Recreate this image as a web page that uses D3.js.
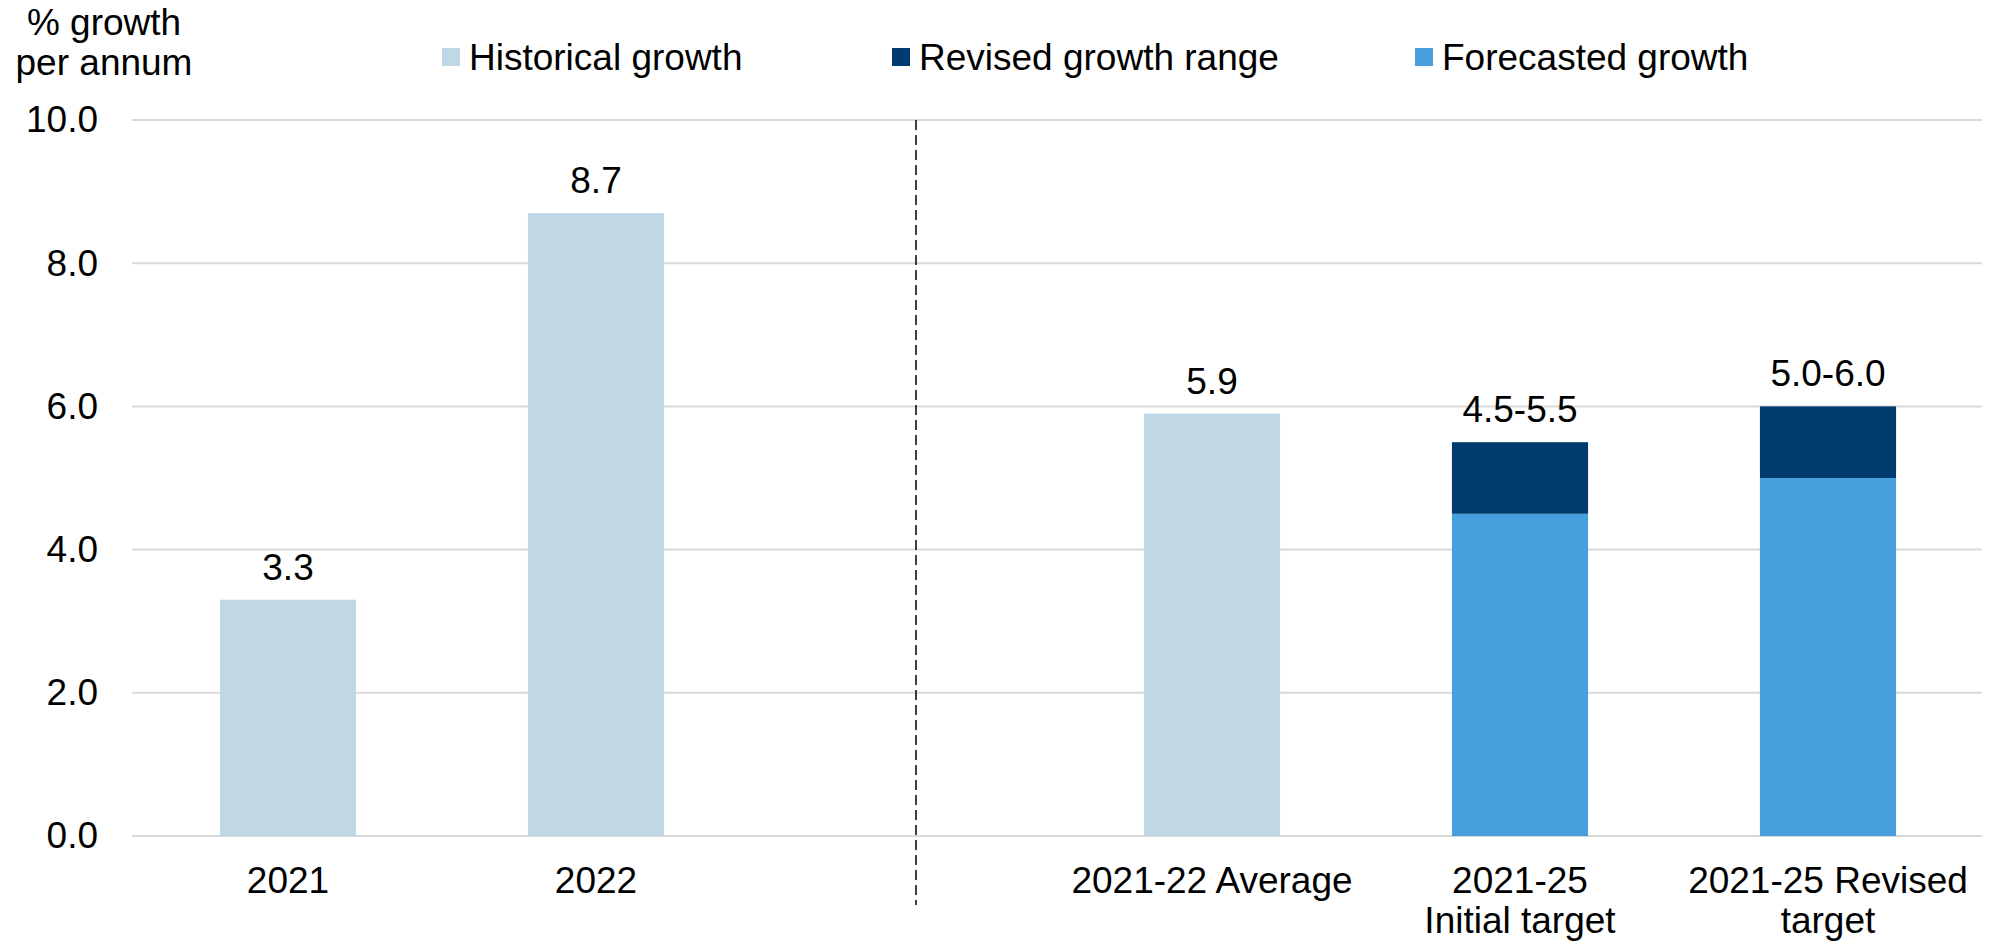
<!DOCTYPE html>
<html>
<head>
<meta charset="utf-8">
<script src="https://cdn.jsdelivr.net/npm/d3@7"></script>
<style>
  html, body { margin: 0; padding: 0; background: #ffffff; }
  svg { display: block; }
  text { font-family: "Liberation Sans", Arial, sans-serif; fill: #000; }
</style>
</head>
<body>
<svg id="chart" width="1990" height="943"></svg>
<script>
// ---- Data ----
const categories = ["2021", "2022", "gap", "2021-22 Average", "2021-25 Initial target", "2021-25 Revised target"];
const categoryLabels = [["2021"], ["2022"], [], ["2021-22 Average"], ["2021-25", "Initial target"], ["2021-25 Revised", "target"]];
const historicalGrowth = [3.3, 8.7, null, 5.9, null, null];
const forecastedGrowth = [null, null, null, null, 4.5, 5.0];
const revisedRangeTop = [null, null, null, null, 5.5, 6.0];
const valueLabels = ["3.3", "8.7", "", "5.9", "4.5-5.5", "5.0-6.0"];
const yTicks = [0, 2, 4, 6, 8, 10];
const legendItems = ["Historical growth", "Revised growth range", "Forecasted growth"];
const yTitle = ["% growth", "per annum"];

// ---- Styles ----
const colHist = "#C0D7E6", colRange = "#003B70", colFore = "#479FDE";
const legendColors = [colHist, colRange, colFore];
const fontSize = 37;

const svg = d3.select("#chart");

const x = d3.scaleBand().domain(categories).range([134, 1982]).paddingInner(0.558).paddingOuter(0.279);
const y = d3.scaleLinear().domain([0, 10]).range([836, 120]);

// Gridlines
svg.append("g").selectAll("line").data(yTicks).join("line")
  .attr("x1", 132).attr("x2", 1982)
  .attr("y1", d => y(d)).attr("y2", d => y(d))
  .attr("stroke", "#d9d9d9").attr("stroke-width", 2);

// Y axis labels
const yAxis = d3.axisLeft(y).tickValues(yTicks).tickFormat(d3.format(".1f")).tickSize(0).tickPadding(0);
const yg = svg.append("g").attr("transform", "translate(98,0)").call(yAxis);
yg.select(".domain").remove();
yg.selectAll("text").attr("font-size", fontSize).attr("font-family", "Liberation Sans, Arial, sans-serif").attr("fill", "#000");

// Y title
svg.append("text").attr("text-anchor", "middle").attr("font-size", fontSize)
  .selectAll("tspan").data(yTitle).join("tspan")
  .attr("x", 104).attr("y", (d, i) => 35 + i * 40).text(d => d);

// Bars: historical
const idx = d3.range(categories.length);
svg.append("g").selectAll("rect").data(idx.filter(i => historicalGrowth[i] != null)).join("rect")
  .attr("x", i => x(categories[i])).attr("width", x.bandwidth())
  .attr("y", i => y(historicalGrowth[i])).attr("height", i => y(0) - y(historicalGrowth[i]))
  .attr("fill", colHist);
// Forecasted
svg.append("g").selectAll("rect").data(idx.filter(i => forecastedGrowth[i] != null)).join("rect")
  .attr("x", i => x(categories[i])).attr("width", x.bandwidth())
  .attr("y", i => y(forecastedGrowth[i])).attr("height", i => y(0) - y(forecastedGrowth[i]))
  .attr("fill", colFore);
// Revised range
svg.append("g").selectAll("rect").data(idx.filter(i => revisedRangeTop[i] != null)).join("rect")
  .attr("x", i => x(categories[i])).attr("width", x.bandwidth())
  .attr("y", i => y(revisedRangeTop[i])).attr("height", i => y(forecastedGrowth[i]) - y(revisedRangeTop[i]))
  .attr("fill", colRange);

// Value labels
svg.append("g").selectAll("text").data(idx.filter(i => valueLabels[i])).join("text")
  .attr("x", i => x(categories[i]) + x.bandwidth() / 2)
  .attr("y", i => y(revisedRangeTop[i] != null ? revisedRangeTop[i] : historicalGrowth[i]) - 20)
  .attr("text-anchor", "middle").attr("font-size", fontSize)
  .text(i => valueLabels[i]);

// X labels
const xl = svg.append("g").selectAll("text").data(idx).join("text")
  .attr("text-anchor", "middle").attr("font-size", fontSize);
xl.selectAll("tspan").data(i => categoryLabels[i].map(t => ({ t, i }))).join("tspan")
  .attr("x", d => x(categories[d.i]) + x.bandwidth() / 2)
  .attr("y", (d, j) => 893 + j * 40)
  .text(d => d.t);

// Dashed separator
svg.append("line").attr("x1", 916).attr("x2", 916).attr("y1", y(10)).attr("y2", 905)
  .attr("stroke", "#000").attr("stroke-width", 1.5).attr("stroke-dasharray", "10,5");

// Legend
const legendX = [442, 892, 1415];
const lg = svg.append("g").selectAll("g").data(legendItems).join("g")
  .attr("transform", (d, i) => `translate(${legendX[i]},0)`);
lg.append("rect").attr("x", 0).attr("y", 48).attr("width", 18).attr("height", 18)
  .attr("fill", (d, i) => legendColors[i]);
lg.append("text").attr("x", 27).attr("y", 70).attr("font-size", fontSize).text(d => d);
</script>
</body>
</html>
